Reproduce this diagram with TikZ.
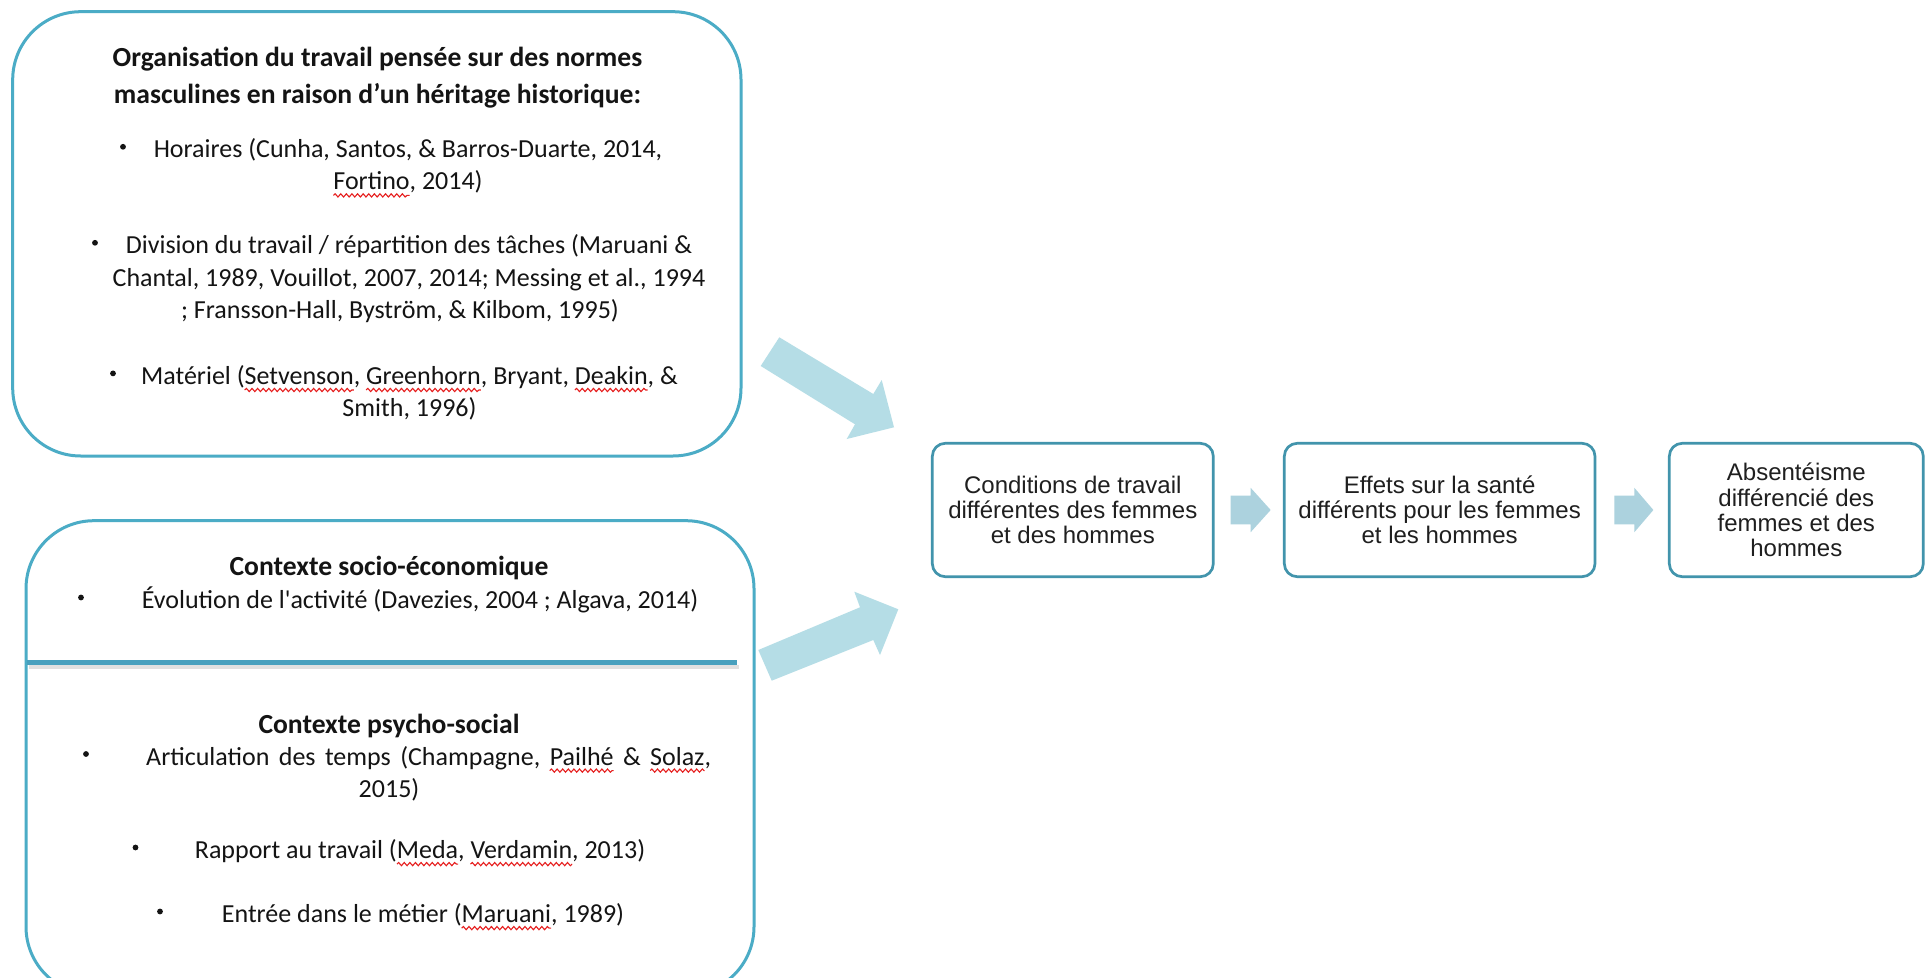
\documentclass[tikz,border=0pt]{standalone}
\usepackage{fontspec}
\usetikzlibrary{calc,decorations.pathmorphing}
\newfontfamily\calfont{Carlito}
\newfontfamily\arialfont{Liberation Sans}
\definecolor{lborder}{RGB}{75,172,198}
\definecolor{rborder}{RGB}{66,148,172}
\definecolor{sepcol}{RGB}{72,160,190}
\definecolor{bigarrow}{RGB}{181,221,230}
\definecolor{smallarrow}{RGB}{172,210,222}
\definecolor{spellred}{RGB}{230,30,30}
\newsavebox\spellbox
\newlength\spellwd
\newcommand\spell[1]{\sbox\spellbox{#1}\setlength\spellwd{\wd\spellbox}%
  \rlap{\tikz[overlay,baseline=0pt,x=1pt,y=1pt]\draw[spellred,line width=0.55pt,decorate,
    decoration={snake,amplitude=0.8pt,segment length=2.8pt}] (0,-2.8) -- (\spellwd,-2.8);}%
  \usebox\spellbox}
\tikzset{
  lbox/.style={draw=lborder, line width=1.5pt, rounded corners=34pt, inner sep=0pt},
  rbox/.style={draw=rborder, line width=1.35pt, rounded corners=6.5pt, align=center, text=black!88,
    font=\arialfont\fontsize{12}{12.6}\selectfont, inner sep=0pt, minimum height=66.7pt},
  ltxt/.style={anchor=base, inner sep=0pt, text=black!92, font=\calfont\fontsize{13}{16}\selectfont},
  lhead/.style={ltxt, font=\calfont\bfseries\fontsize{13.8}{16}\selectfont},
  bul/.style={circle, fill=black!92, inner sep=0pt, minimum size=2.9pt},
  bigarr/.style={fill=bigarrow},
  smallarr/.style={fill=smallarrow},
}
\begin{document}
\begin{tikzpicture}[x=0.5pt, y=-0.5pt]
\useasboundingbox (0,0) rectangle (1931,978);
\fill[white] (0,0) rectangle (1931,978);
\clip (0,0) rectangle (1931,978);

% left boxes
\node[lbox, minimum width=364.15pt, minimum height=222.15pt] (top) at (376.85,233.85) {};
\node[lbox, minimum width=364pt, minimum height=237pt] (bot) at (390,757.7) {};

% top box text
\node[lhead] (t1) at (377.5,66.1) {Organisation du travail pensée sur des normes};
\node[lhead] (t2) at (377.5,103.1) {masculines en raison d’un héritage historique:};
\node[bul] (b1) at (123,146.8) {};
\node[ltxt] (h1) at (408,157.8) {Horaires (Cunha, Santos, \& Barros-Duarte, 2014,};
\node[ltxt] (h2) at (408,189.8) {\spell{Fortino}, 2014)};
\node[bul] (b2) at (95,242.8) {};
\node[ltxt] (d1) at (409,253.8) {Division du travail / répartition des tâches (Maruani \&};
\node[ltxt] (d2) at (409,287) {Chantal, 1989, Vouillot, 2007, 2014; Messing et al., 1994};
\node[ltxt] (d3) at (400,319) {; Fransson-Hall, Byström, \& Kilbom, 1995)};
\node[bul] (b3) at (113,373.4) {};
\node[ltxt] (m1) at (409.5,384.4) {Matériel (\spell{Setvenson}, \spell{Greenhorn}, Bryant, \spell{Deakin}, \&};
\node[ltxt] (m2) at (409.5,416.4) {Smith, 1996)};

% bottom box text
\node[lhead] (s1) at (389,575.3) {Contexte socio-économique};
\node[bul] (b4) at (81,597.5) {};
\node[ltxt] (ev) at (420,608.5) {Évolution de l'activité (Davezies, 2004 ; Algava, 2014)};
\coordinate (sepL) at (27,662.5);
\coordinate (sepR) at (737,662.5);
\draw[line width=2pt, black!12] ($(sepL)+(2,4)$) -- ($(sepR)+(2,4)$);
\draw[line width=2.6pt, sepcol] (sepL) -- (sepR);
\node[lhead] (p1) at (389,733) {Contexte psycho-social};
\node[bul] (b5) at (86,754) {};
\node[ltxt] (ar1) at (428.6,765) {\spaceskip=4.7pt Articulation des temps (Champagne, \spell{Pailhé} \& \spell{Solaz},};
\node[ltxt] (ar2) at (389,797) {2015)};
\node[bul] (b6) at (135.5,847.5) {};
\node[ltxt] (rp) at (420,858.5) {Rapport au travail (\spell{Meda}, \spell{Verdamin}, 2013)};
\node[bul] (b7) at (160,911.5) {};
\node[ltxt] (en) at (423,922.5) {Entrée dans le métier (\spell{Maruani}, 1989)};

% big arrows
\fill[bigarr] (779.3,337.3) -- (873.3,394) -- (881.7,380) -- (894,427.3) -- (846.7,439) -- (855,424.3) -- (760.7,366) -- cycle;
\fill[bigarr] (758.3,650) -- (860,607.3) -- (854.3,591.7) -- (898.3,609.3) -- (880,655) -- (873.3,640) -- (771.7,680.7) -- cycle;

% right boxes
\node[rbox, minimum width=140.5pt] (c) at (1072.8,510) {Conditions de travail\\différentes des femmes\\et des hommes};
\node[rbox, minimum width=155.35pt] (e) at (1439.65,510) {Effets sur la santé\\différents pour les femmes\\et les hommes};
\node[rbox, minimum width=127pt] (a) at (1796.3,510) {Absentéisme\\différencié des\\femmes et des\\hommes};

% small arrows
\fill[smallarr] ($(c.east)+(16,-14.3)$) -- ($(c.east)+(36,-14.3)$) -- ($(c.east)+(36,-22.2)$) -- ($(c.east)+(56,0)$)
  -- ($(c.east)+(36,22.2)$) -- ($(c.east)+(36,14.3)$) -- ($(c.east)+(16,14.3)$) -- cycle;
\fill[smallarr] ($(e.east)+(18,-14.3)$) -- ($(e.east)+(38,-14.3)$) -- ($(e.east)+(38,-22.2)$) -- ($(e.east)+(57,0)$)
  -- ($(e.east)+(38,22.2)$) -- ($(e.east)+(38,14.3)$) -- ($(e.east)+(18,14.3)$) -- cycle;
\end{tikzpicture}
\end{document}
